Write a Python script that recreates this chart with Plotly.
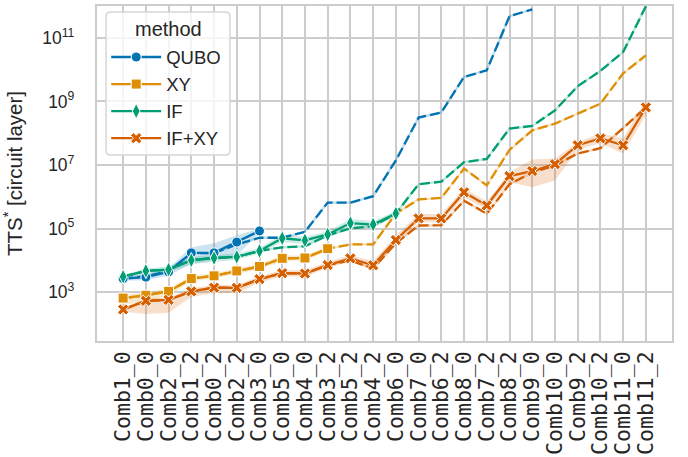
import plotly.graph_objects as go

categories = ["Comb1_0", "Comb0_0", "Comb2_0", "Comb1_2", "Comb0_2", "Comb2_2", "Comb3_0",
              "Comb5_0", "Comb4_0", "Comb3_2", "Comb5_2", "Comb4_2", "Comb6_0", "Comb7_0",
              "Comb6_2", "Comb8_0", "Comb7_2", "Comb8_2", "Comb9_0", "Comb10_0", "Comb9_2",
              "Comb10_2", "Comb11_0", "Comb11_2"]

methods = ["QUBO", "XY", "IF", "IF+XY"]

# measured TTS (mean with confidence band)
qubo_mean = [2.7e3, 3.0e3, 4.4e3, 1.74e4, 1.74e4, 3.8e4, 8.5e4]
qubo_lo = [2.3e3, 2.4e3, 3.3e3, 7.9e3, 1.0e4, 1.45e4, 7.2e4]
qubo_hi = [3.2e3, 3.8e3, 5.8e3, 2.6e4, 3.5e4, 6.2e4, 1.02e5]

xy_mean = [6.6e2, 8.1e2, 1.07e3, 2.7e3, 3.3e3, 4.7e3, 6.5e3, 1.17e4, 1.2e4, 2.35e4]
xy_lo = [4.2e2, 4.8e2, 7.9e2, 2.2e3, 2.75e3, 3.8e3, 5.2e3, 9.5e3, 1.0e4, 2.0e4]
xy_hi = [8.3e2, 1.0e3, 1.32e3, 3.3e3, 4.0e3, 5.8e3, 7.9e3, 1.45e4, 1.45e4, 2.75e4]

if_mean = [3.1e3, 4.7e3, 5.2e3, 1.02e4, 1.2e4, 1.3e4, 2.0e4, 5.0e4, 4.3e4, 6.6e4, 1.5e5, 1.35e5, 3.0e5]
if_lo = [2.6e3, 4.0e3, 4.2e3, 7.6e3, 8.9e3, 1.05e4, 1.66e4, 3.8e4, 3.3e4, 5.2e4, 1.05e5, 1.07e5, 2.5e5]
if_hi = [3.6e3, 5.5e3, 6.6e3, 1.32e4, 1.5e4, 1.66e4, 2.5e4, 6.6e4, 5.5e4, 8.3e4, 2.0e5, 1.7e5, 3.6e5]

ifxy_mean = [2.9e2, 5.4e2, 5.8e2, 1.07e3, 1.4e3, 1.38e3, 2.6e3, 4.0e3, 3.9e3, 7.2e3, 1.17e4, 7.1e3,
             4.4e4, 2.1e5, 2.1e5, 1.4e6, 5.4e5, 4.5e6, 6.5e6, 1.07e7, 4.2e7, 6.9e7, 4.2e7, 6.5e8]
ifxy_lo = [2.5e2, 2.1e2, 2.3e2, 7.1e2, 9.5e2, 9.5e2, 2.0e3, 3.2e3, 3.1e3, 5.8e3, 9.3e3, 5.2e3,
           3.2e4, 1.6e5, 1.6e5, 9.8e5, 4.0e5, 2.9e6, 2.0e6, 3.3e6, 3.0e7, 4.9e7, 2.3e7, 3.7e8]
ifxy_hi = [3.3e2, 6.3e2, 6.9e2, 1.32e3, 1.74e3, 1.66e3, 3.2e3, 5.0e3, 4.9e3, 9.1e3, 1.48e4, 9.5e3,
           6.0e4, 2.9e5, 2.9e5, 1.86e6, 7.1e5, 5.9e6, 1.5e7, 1.6e7, 5.2e7, 1.0e8, 6.9e7, 1.1e9]

# extrapolated TTS (dashed)
qubo_fit = [2.7e3, 3.2e3, 4.6e3, 1.7e4, 1.7e4, 3.2e4, 5.2e4, 5.2e4, 8.0e4, 6.6e5, 6.6e5, 1.05e6,
            1.4e7, 3.1e8, 4.5e8, 5.9e9, 9.5e9, 4.8e11, 7.8e11]
xy_fit = [6.6e2, 8.1e2, 1.07e3, 2.7e3, 3.3e3, 4.7e3, 6.5e3, 1.17e4, 1.2e4, 2.35e4, 3.2e4, 3.2e4,
          3.0e5, 8.3e5, 9.3e5, 7.8e6, 2.3e6, 3.0e7, 1.23e8, 2.0e8, 4.2e8, 8.5e8, 7.6e9, 2.8e10]
if_fit = [3.1e3, 4.7e3, 5.2e3, 1.02e4, 1.2e4, 1.3e4, 2.0e4, 2.6e4, 2.8e4, 6.2e4, 1.02e5, 1.2e5,
          3.0e5, 2.5e6, 3.0e6, 1.23e7, 1.55e7, 1.4e8, 1.7e8, 5.2e8, 3.0e9, 9.1e9, 3.6e10, 9.8e11]
ifxy_fit = [2.9e2, 5.4e2, 5.8e2, 1.07e3, 1.4e3, 1.38e3, 2.6e3, 4.0e3, 3.9e3, 7.2e3, 1.0e4, 5.6e3,
            3.5e4, 1.26e5, 1.29e5, 7.6e5, 2.95e5, 2.5e6, 5.9e6, 9.8e6, 2.3e7, 3.4e7, 1.45e8, 6.5e8]

colors = {"QUBO": "#0173B2", "XY": "#DE8F05", "IF": "#029E73", "IF+XY": "#D55E00"}
rgba = {"QUBO": "rgba(1,115,178,{a})", "XY": "rgba(222,143,5,{a})",
        "IF": "rgba(2,158,115,{a})", "IF+XY": "rgba(213,94,0,{a})"}
symbols = {"QUBO": "circle", "XY": "square", "IF": "diamond-tall", "IF+XY": "x"}
msize = {"QUBO": 10, "XY": 10, "IF": 11, "IF+XY": 10}

data = {
    "QUBO": (qubo_mean, qubo_lo, qubo_hi, qubo_fit),
    "XY": (xy_mean, xy_lo, xy_hi, xy_fit),
    "IF": (if_mean, if_lo, if_hi, if_fit),
    "IF+XY": (ifxy_mean, ifxy_lo, ifxy_hi, ifxy_fit),
}

fig = go.Figure()

# dashed extrapolations
for m in methods:
    mean, lo, hi, fit = data[m]
    xs = categories[:len(fit)]
    fig.add_trace(go.Scatter(x=xs, y=fit, mode="lines", showlegend=False, hoverinfo="skip",
                             line=dict(color=rgba[m].format(a=0.25), width=2.3)))
    fig.add_trace(go.Scatter(x=xs, y=fit, mode="lines", showlegend=False,
                             line=dict(color=colors[m], width=2.3, dash="10px,4px")))

# confidence bands
for m in methods:
    mean, lo, hi, fit = data[m]
    xs = categories[:len(mean)]
    fig.add_trace(go.Scatter(x=xs, y=hi, mode="lines", line=dict(width=0), showlegend=False,
                             hoverinfo="skip"))
    fig.add_trace(go.Scatter(x=xs, y=lo, mode="lines", line=dict(width=0), showlegend=False,
                             fill="tonexty", fillcolor=rgba[m].format(a=0.2), hoverinfo="skip"))

# measured means with markers
for m in methods:
    mean, lo, hi, fit = data[m]
    xs = categories[:len(mean)]
    fig.add_trace(go.Scatter(x=xs, y=mean, mode="lines+markers", name=m,
                             line=dict(color=colors[m], width=2.3),
                             marker=dict(symbol=symbols[m], size=msize[m], color=colors[m],
                                         line=dict(color="white", width=1))))

axis_col = "#cccccc"
txt = "#262626"

# legend frame (rounded box) + title
x0, x1, y0, y1, r = 0.0157, 0.2313, 0.5552, 0.9821, 0.008
ry = r * 575 / 335
frame = (f"M {x0 + r},{y1} L {x1 - r},{y1} Q {x1},{y1} {x1},{y1 - ry} "
         f"L {x1},{y0 + ry} Q {x1},{y0} {x1 - r},{y0} L {x0 + r},{y0} "
         f"Q {x0},{y0} {x0},{y0 + ry} L {x0},{y1 - ry} Q {x0},{y1} {x0 + r},{y1} Z")
fig.add_shape(type="path", path=frame, xref="paper", yref="paper", layer="above",
              fillcolor="rgba(255,255,255,0.8)", line=dict(color="#d6d6d6", width=1.5))
fig.add_annotation(text="method", x=0.1235, y=0.9313, xref="paper", yref="paper",
                   showarrow=False, xanchor="center", yanchor="middle",
                   font=dict(size=20, color=txt))

fig.update_layout(
    width=688, height=457,
    margin=dict(l=97, r=16, t=6, b=116),
    plot_bgcolor="white", paper_bgcolor="white",
    font=dict(family="Liberation Sans, Arial, sans-serif", size=18, color=txt),
    legend=dict(
        x=0.016, y=0.903, xanchor="left", yanchor="top",
        bgcolor="rgba(0,0,0,0)", borderwidth=0,
        font=dict(size=18.5, color=txt),
        tracegroupgap=0, traceorder="normal", itemwidth=50,
    ),
)
fig.update_xaxes(
    type="category", categoryorder="array", categoryarray=categories,
    tickmode="array", tickvals=categories, ticktext=categories,
    range=[-1.15, 24.15], automargin=False,
    showgrid=True, gridcolor=axis_col, gridwidth=1.5,
    showline=True, linecolor=axis_col, linewidth=1.5, mirror=True,
    ticks="", tickangle=-90, ticklabelstandoff=0,
    tickfont=dict(family="DejaVu Sans Mono", size=21.5, color=txt),
)
fig.update_yaxes(
    type="log", range=[1.47, 12.0], dtick=2, tick0=1, exponentformat="power",
    automargin=False,
    showgrid=True, gridcolor=axis_col, gridwidth=1.5,
    showline=True, linecolor=axis_col, linewidth=1.5, mirror=True,
    ticks="", tickfont=dict(size=14, color=txt), ticklabelstandoff=18,
    title=dict(text="TTS<sup>*</sup> [circuit layer]", font=dict(size=20.5, color=txt)),
    zeroline=False,
)

fig.write_html("out.html", config={"displayModeBar": False},
               post_script="document.body.style.margin='0';")
